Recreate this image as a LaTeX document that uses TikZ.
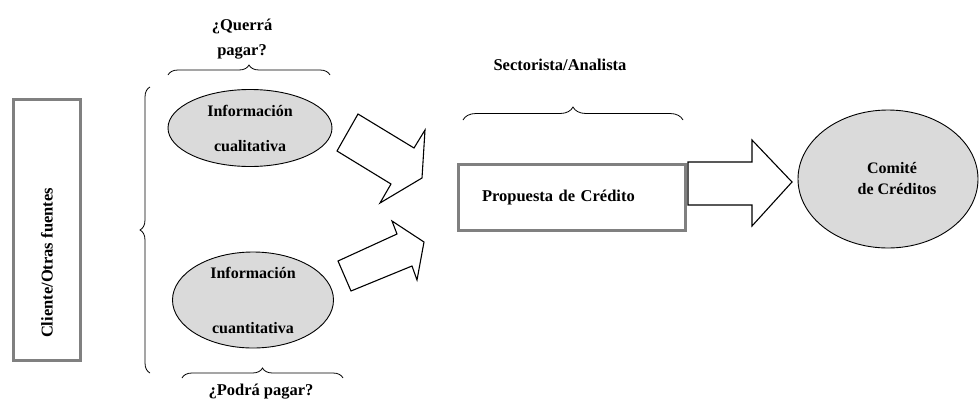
\documentclass[tikz,border=0pt]{standalone}
\usepackage{fontspec}
\setmainfont{Liberation Serif}
\usetikzlibrary{shapes.geometric,decorations.pathreplacing}
\definecolor{ellfill}{HTML}{DADADA}
\definecolor{boxgray}{HTML}{808080}
\begin{document}
\begin{tikzpicture}[x=1pt,y=-1pt,
  txt/.style={font=\fontsize{16.5}{20}\selectfont\bfseries, inner sep=0pt},
  ell/.style={ellipse, draw=black, line width=0.9pt, fill=ellfill, inner sep=0pt, font=\fontsize{16}{19}\selectfont\bfseries, align=center},
  graybox/.style={draw=boxgray, line width=3pt, inner sep=0pt},
  brc/.style={decorate, decoration={brace, amplitude=10pt}, line width=0.8pt},
  blockarrow/.style={draw=black, line width=1.1pt, fill=white, line join=miter}
]
\useasboundingbox (0,0) rectangle (980,405);

% left box
\node[graybox, minimum width=67pt, minimum height=261pt] (cliente) at (47,230) {};
\node[txt, rotate=90] (clientetxt) at (47,263) {Cliente/Otras fuentes};

% left brace
\draw[brc] (150,373) -- (150,87);

% questions
\node[txt, align=center] (querra) at (242,39) {¿Querrá\\[5pt]pagar?};
\draw[brc] (168,75) -- (330,75);

\node[txt] (podra) at (261,392) {¿Podrá pagar?};
\draw[brc] (182,378) -- (343,378);

% ellipses
\node[ell, minimum width=164pt, minimum height=77pt] (cual) at (250,128) {Información\\[16pt]cualitativa};
\node[ell, minimum width=161pt, minimum height=96pt] (cuan) at (253,300) {Información\\[36pt]cuantitativa};

% skew block arrows
\draw[blockarrow] (358,114) -- (414,148) -- (425,130) -- (422,178) -- (380,203) -- (391,184) -- (337,151) -- cycle;
\draw[blockarrow] (338,261) -- (397,234) -- (392,221) -- (424,242) -- (417,280) -- (412,266) -- (351,291) -- cycle;

% Sectorista
\node[txt] (sect) at (560,65) {Sectorista/Analista};
\draw[brc, decoration={amplitude=13pt}] (463,120) -- (683,120);

% Propuesta
\node[graybox, minimum width=227pt, minimum height=66pt, text width=180pt, align=left, font=\fontsize{16.5}{20}\selectfont\bfseries] (prop) at (572,197.5) {Propuesta de Crédito};

% big arrow
\draw[blockarrow] (688,162) -- (752,162) -- (752,140) -- (792,182) -- (752,226) -- (752,205) -- (688,205) -- cycle;

% Comite
\node[ell, minimum width=180pt, minimum height=138pt] (comite) at (888,179) {\hspace*{8pt}Comité\\[2pt]\hspace*{18pt}de Créditos};
\end{tikzpicture}
\end{document}
